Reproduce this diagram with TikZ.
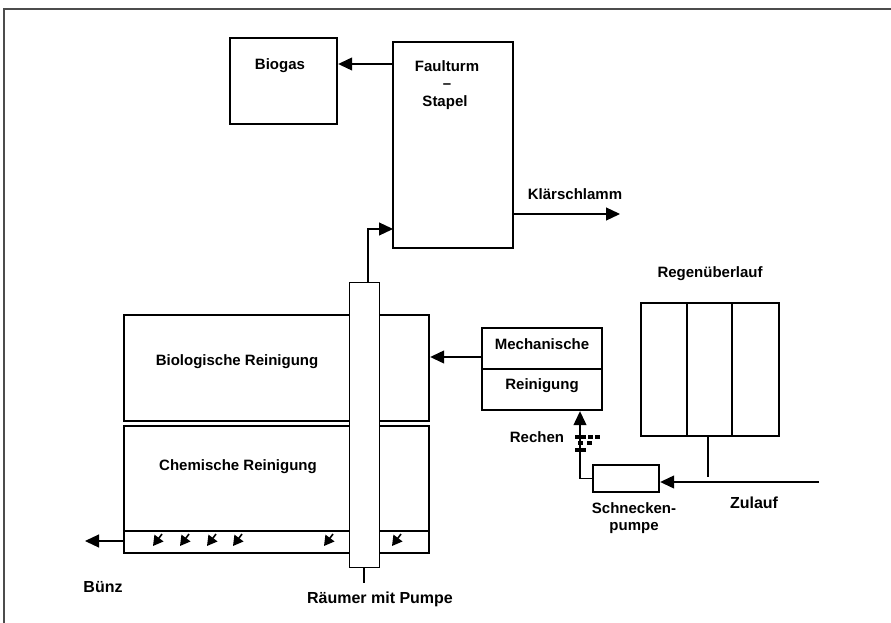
\documentclass[tikz,border=0pt]{standalone}
\usepackage{fontspec}
\setmainfont{Liberation Sans}
\usetikzlibrary{arrows.meta,calc}
\tikzset{
  box/.style={draw, line width=2.4pt, fill=white, inner sep=0pt, anchor=center},
  thinbox/.style={draw, line width=1pt, fill=white, inner sep=0pt, anchor=center},
  txt/.style={font=\bfseries\fontsize{15}{17}\selectfont, inner sep=0pt, align=center},
  bigtxt/.style={font=\bfseries\fontsize{16}{18}\selectfont, inner sep=0pt, align=center},
  arr/.style={line width=1.2pt, -{Triangle[length=14pt,width=13pt]}},
  conn/.style={line width=1.2pt},
  small/.style={line width=1.6pt, -{Triangle[length=10pt,width=11pt]}},
  frame/.style={line width=1.6pt, draw=black!70},
  sq/.style={fill=black}
}
\begin{document}
\begin{tikzpicture}[x=1pt,y=-1pt]
\useasboundingbox (0,0) rectangle (891,623);
\fill[white] (0,0) rectangle (891,623);
\draw[frame] (4,623) -- (4,9) -- (891,9);

% boxes
\node[box, minimum width=107, minimum height=86] (biogas) at (283.5,81) {};
\node[box, minimum width=120, minimum height=206] (faul) at (453,145) {};
\node[box, minimum width=305, minimum height=106] (bio) at (276.5,368) {};
\node[box, minimum width=305, minimum height=127] (chem) at (276.5,489.5) {};
\draw[line width=2.4pt] (chem.west |- 0,531) -- (chem.east |- 0,531);
\node[thinbox, minimum width=30, minimum height=285] (col) at (364,424.5) {};
\node[box, minimum width=120, minimum height=82] (mech) at (542,369) {};
\draw[line width=2.4pt] (mech.west) -- (mech.east);
\node[box, minimum width=138, minimum height=133] (regen) at (710,369.5) {};
\draw[line width=2.4pt] (687,303) -- (687,436);
\draw[line width=2.4pt] (732,303) -- (732,436);
\node[box, minimum width=66, minimum height=27] (schn) at (626,478.5) {};

% texts
\node[txt] (tbiogas) at (280,66) {Biogas};
\node[txt] (tfaul) at (447,66) {Faulturm};
\node[txt] (tdash) at (447,86) {--};
\node[txt] (tstapel) at (445,103) {Stapel};
\node[txt] (tklaer) at (575,194) {Klärschlamm};
\node[txt] (tbio) at (237,362) {Biologische Reinigung};
\node[txt] (tchem) at (238,467) {Chemische Reinigung};
\node[txt] (tmech) at (542,344) {Mechanische};
\node[txt] (trein) at (542,386) {Reinigung};
\node[txt] (tregen) at (710,274) {Regenüberlauf};
\node[txt] (trechen) at (537,437) {Rechen};
\node[txt] (tschn) at (634,518) {Schnecken-\\pumpe};
\node[bigtxt] (tzul) at (754,503) {Zulauf};
\node[bigtxt] (tbuenz) at (103,587) {Bünz};
\node[bigtxt] (traeum) at (380,599) {Räumer mit Pumpe};

% coordinates
\coordinate (gasY) at (0,64);
\coordinate (klEnd) at (620,214);
\coordinate (faulIn) at (393,229);
\coordinate (colTop) at (368,282);
\coordinate (colEnd) at (364,583);
\coordinate (mechY) at (0,357);
\coordinate (rakeX) at (580,0);
\coordinate (zulStart) at (819,482);
\coordinate (regenX) at (708,0);
\coordinate (regenEnd) at (708,477);
\coordinate (buenzEnd) at (85,541);

% connectors
\draw[arr] (faul.west |- gasY) -- (biogas.east |- gasY);
\draw[arr] (faul.east |- klEnd) -- (klEnd);
\draw[arr] (colTop) |- (faulIn);
\draw[conn] (col.south) -- (colEnd);
\draw[arr] (mech.west |- mechY) -- (bio.east |- mechY);
\draw[arr] (schn.west) -| (mech.south -| rakeX);
\draw[arr] (zulStart) -- (schn.east |- zulStart);
\draw[conn] (regen.south -| regenX) -- (regenEnd);
\draw[arr] (chem.west |- buenzEnd) -- (buenzEnd);

% small arrows in bottom strip
\foreach \x in {157,184,211,237,328,396}{
  \draw[small] (\x+5,534) -- (\x-4,546);
}

% rake symbol (Rechen)
\foreach \x/\y in {577/437,583/437,590/437,597/437,580/443,589/443,577/450,583/450}{
  \fill[sq] (\x-2.5,\y-2) rectangle (\x+2.5,\y+2);
}
\end{tikzpicture}
\end{document}
